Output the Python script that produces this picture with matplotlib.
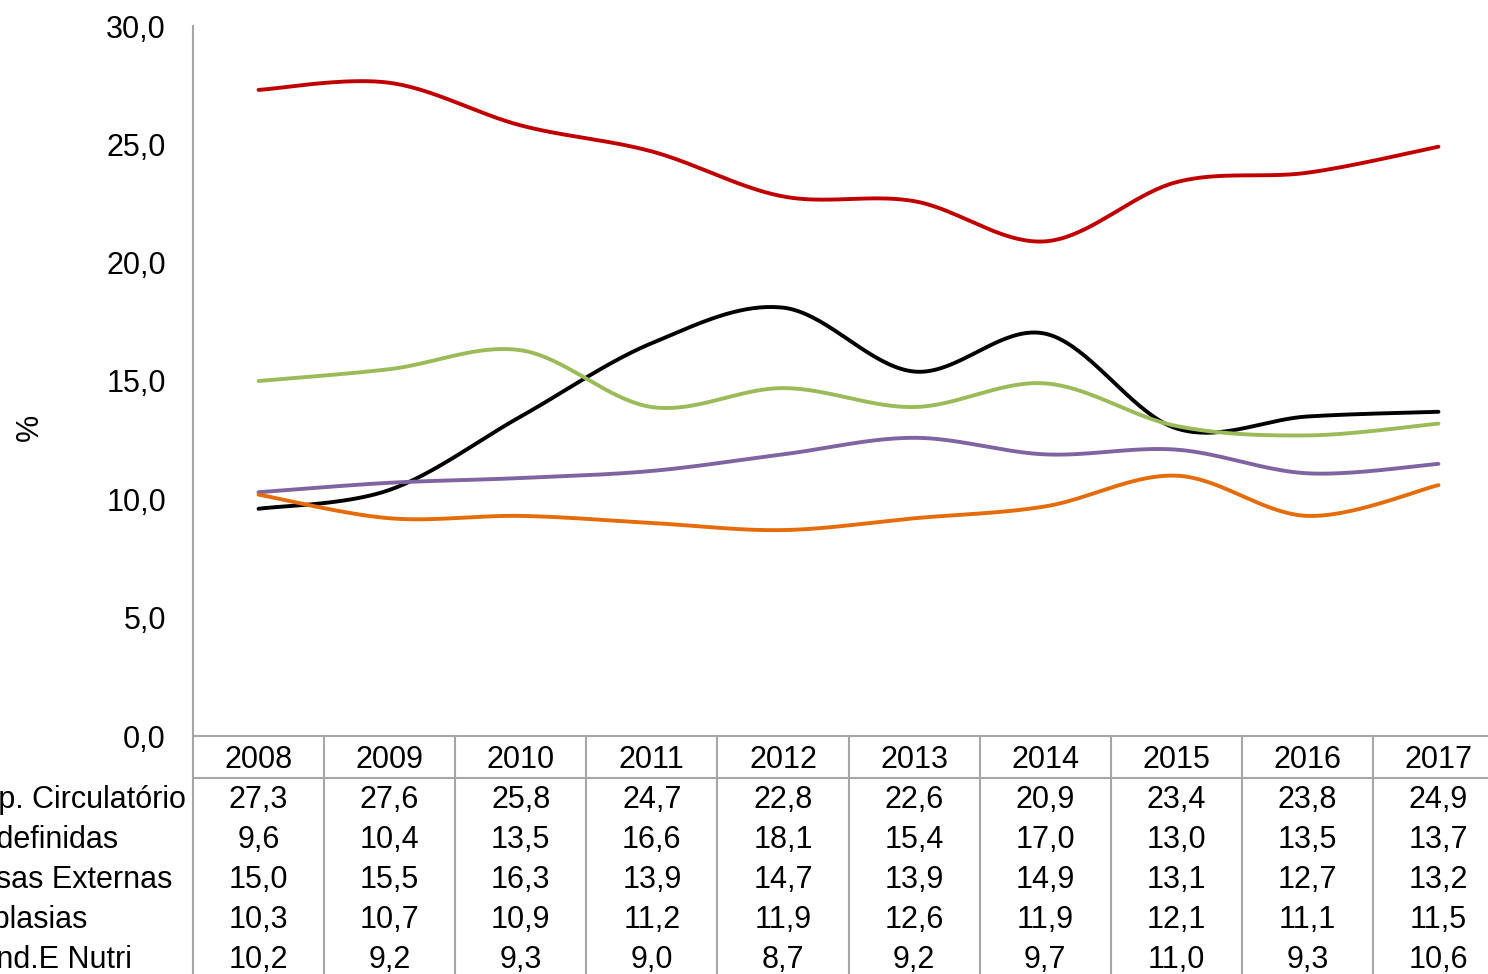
import matplotlib
matplotlib.use("Agg")
import matplotlib.pyplot as plt
import numpy as np
from matplotlib.lines import Line2D
from matplotlib.transforms import blended_transform_factory

plt.rcParams['font.family'] = ['Liberation Sans', 'DejaVu Sans']

years = ["2008", "2009", "2010", "2011", "2012", "2013", "2014", "2015", "2016", "2017"]
labels = ["Ap. Circulatório", "Mal definidas", "Causas Externas", "Neoplasias", "End.E Nutri"]
circulatorio = [27.3, 27.6, 25.8, 24.7, 22.8, 22.6, 20.9, 23.4, 23.8, 24.9]
mal_definidas = [9.6, 10.4, 13.5, 16.6, 18.1, 15.4, 17.0, 13.0, 13.5, 13.7]
causas_externas = [15.0, 15.5, 16.3, 13.9, 14.7, 13.9, 14.9, 13.1, 12.7, 13.2]
neoplasias = [10.3, 10.7, 10.9, 11.2, 11.9, 12.6, 11.9, 12.1, 11.1, 11.5]
endocrinas = [10.2, 9.2, 9.3, 9.0, 8.7, 9.2, 9.7, 11.0, 9.3, 10.6]
series = [circulatorio, mal_definidas, causas_externas, neoplasias, endocrinas]
colors = ["#C00000", "#000000", "#9BBB59", "#8064A2", "#E46C0A"]

W, H = 1488, 974
fig = plt.figure(figsize=(W / 100, H / 100), dpi=100)

def fx(px):
    return px / W

def fy(py):
    return (H - py) / H

left, right, top, bottom = 193, 1504, 26, 736
ax = fig.add_axes([fx(left), fy(bottom), fx(right) - fx(left), fy(top) - fy(bottom)])
ax.set_xlim(-0.5, len(years) - 0.5)
ax.set_ylim(0, 30)
ax.set_yticks(np.arange(0, 30.1, 5))
ax.set_yticklabels([f"{v:.1f}".replace(".", ",") for v in np.arange(0, 30.1, 5)], fontsize=22)
ax.tick_params(axis='y', length=0, pad=19.5)
ax.set_xticks([])
for s in ["top", "right", "bottom"]:
    ax.spines[s].set_visible(False)
ax.spines["left"].set_color("#A6A6A6")
ax.spines["left"].set_linewidth(1.5)
fig.text(fx(30), fy(427), "%", rotation=90, fontsize=22, ha="center", va="center")


def smooth(y, n=40):
    x = np.arange(len(y), dtype=float)
    y = np.asarray(y, dtype=float)
    P = np.column_stack([x, y])
    xs, ys = [], []
    for i in range(len(P) - 1):
        p0 = P[i]
        p3 = P[i + 1]
        prev = P[i - 1] if i > 0 else P[i]
        nxt = P[i + 2] if i + 2 < len(P) else P[i + 1]
        c1 = p0 + (p3 - prev) / 6.0
        c2 = p3 - (nxt - p0) / 6.0
        t = np.linspace(0, 1, n)[:, None]
        B = ((1 - t) ** 3) * p0 + 3 * ((1 - t) ** 2) * t * c1 + 3 * (1 - t) * t ** 2 * c2 + t ** 3 * p3
        xs.extend(B[:, 0])
        ys.extend(B[:, 1])
    return np.array(xs), np.array(ys)


for vals, c in zip(series, colors):
    sx, sy = smooth(vals)
    ax.plot(sx, sy, color=c, lw=2.8, solid_capstyle="round", clip_on=False)

# table grid
grid_c = "#A6A6A6"
fig.add_artist(Line2D([fx(left), 1.02], [fy(bottom), fy(bottom)], color=grid_c, lw=1.5, transform=fig.transFigure))
fig.add_artist(Line2D([fx(left), 1.02], [fy(778), fy(778)], color=grid_c, lw=1.5, transform=fig.transFigure))
colw = (right - left) / len(years)
for i in range(len(years) + 1):
    xp = left + i * colw
    fig.add_artist(Line2D([fx(xp), fx(xp)], [fy(bottom), fy(H + 5)], color=grid_c, lw=1.5, transform=fig.transFigure))

tr = blended_transform_factory(ax.transData, fig.transFigure)
dy = 3
for i, yr in enumerate(years):
    ax.text(i, fy(757 + dy), yr, transform=tr, ha="center", va="center", fontsize=22, clip_on=False)

row_y = [797, 837, 877, 917, 957]
label_right = [186, 118, 172, 88, 132]
for r, (vals, lab) in enumerate(zip(series, labels)):
    fig.text(fx(label_right[r]), fy(row_y[r] + dy), lab, ha="right", va="center", fontsize=22)
    for i, v in enumerate(vals):
        ax.text(i, fy(row_y[r] + dy), f"{v:.1f}".replace(".", ","), transform=tr,
                ha="center", va="center", fontsize=22, clip_on=False)

fig.savefig("out.png", dpi=100)
